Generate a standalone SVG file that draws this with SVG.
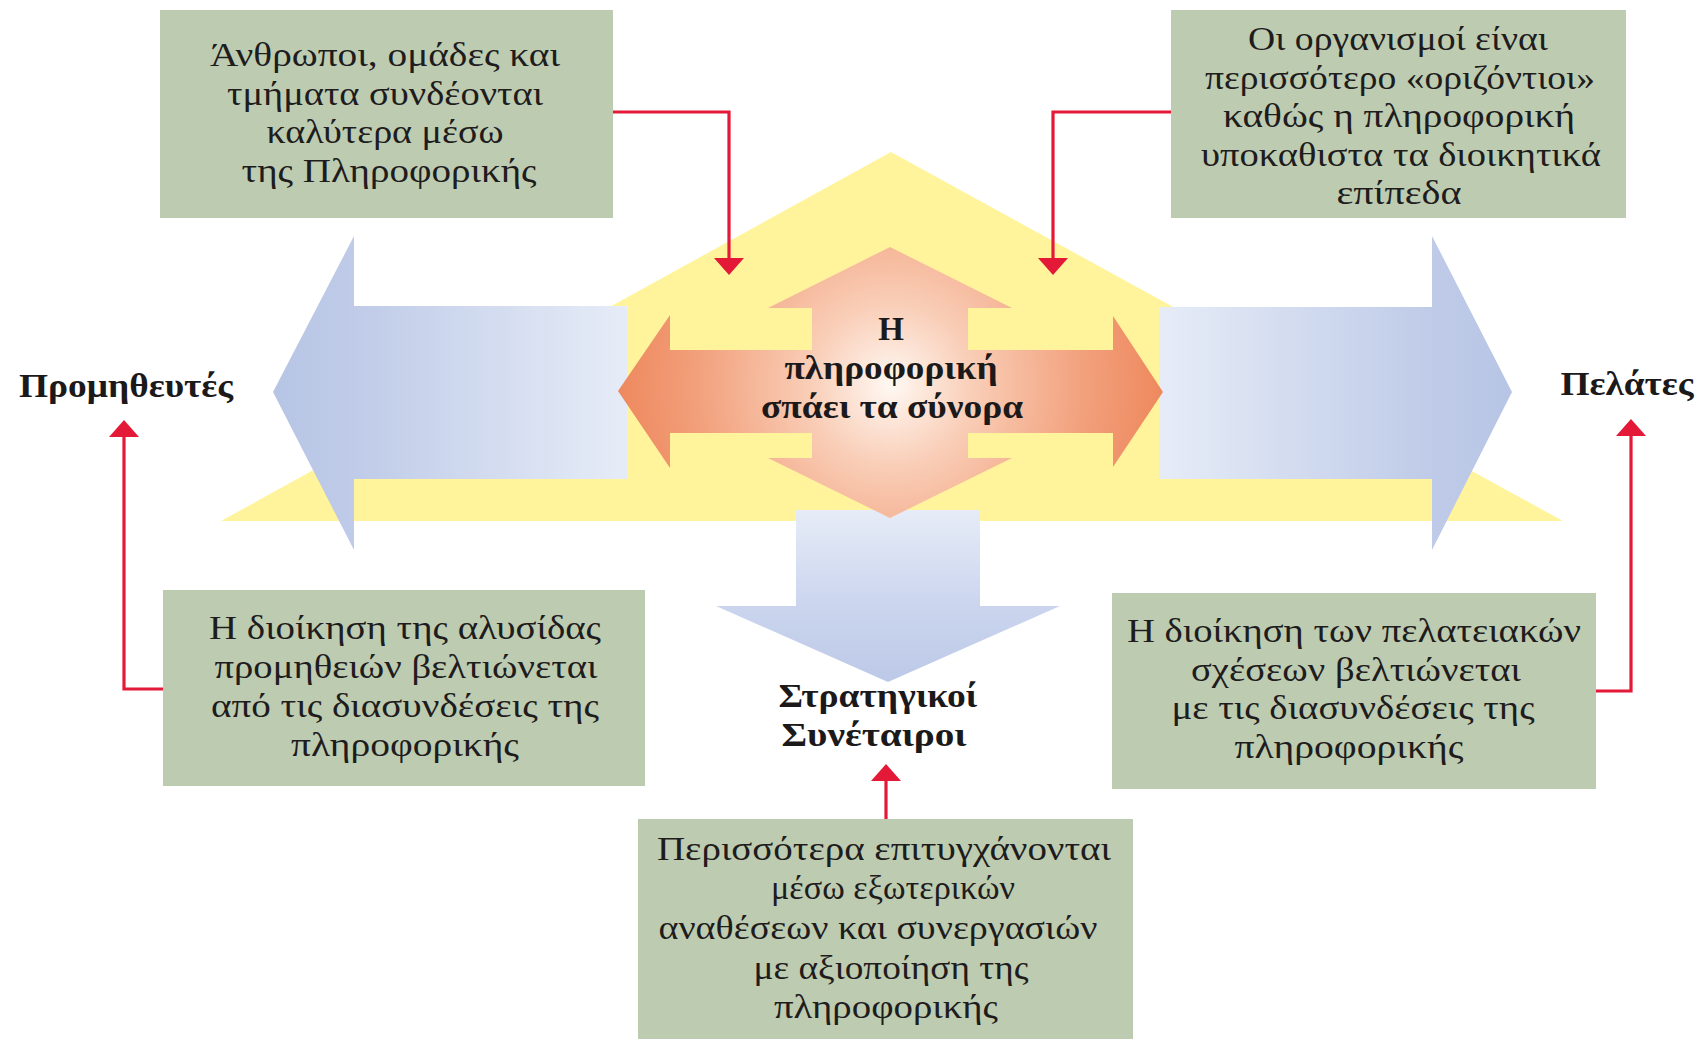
<svg xmlns="http://www.w3.org/2000/svg" width="1708" height="1039" viewBox="0 0 1708 1039">
  <defs>
    <style>
      .box { fill: #BDCCB1; }
      .bt { font-family: "Liberation Serif", "DejaVu Serif", serif; font-size: 34px; fill: #1F1C1D; text-anchor: middle; }
      .lbl { font-family: "Liberation Serif", "DejaVu Serif", serif; font-size: 33px; font-weight: bold; fill: #1C191A; text-anchor: middle; }
      .conn { fill: none; stroke: #E31937; stroke-width: 3.2; }
    </style>
    <marker id="ah" viewBox="0 0 17 30" refX="9" refY="15" markerWidth="17" markerHeight="30" markerUnits="userSpaceOnUse" orient="auto">
      <path d="M0,0 L17,15 L0,30 z" fill="#E31937"/>
    </marker>
    <linearGradient id="blueL" x1="0" y1="0" x2="1" y2="0">
      <stop offset="0" stop-color="#B7C5E5"/>
      <stop offset="0.23" stop-color="#BFCBE8"/>
      <stop offset="1" stop-color="#E6ECF7"/>
    </linearGradient>
    <linearGradient id="blueR" x1="1" y1="0" x2="0" y2="0">
      <stop offset="0" stop-color="#B7C5E5"/>
      <stop offset="0.23" stop-color="#BFCBE8"/>
      <stop offset="1" stop-color="#E6ECF7"/>
    </linearGradient>
    <linearGradient id="blueD" x1="0" y1="0" x2="0" y2="1">
      <stop offset="0" stop-color="#E6ECF7"/>
      <stop offset="0.55" stop-color="#CBD5EE"/>
      <stop offset="1" stop-color="#BCC9E7"/>
    </linearGradient>
    <radialGradient id="orange" gradientUnits="userSpaceOnUse" cx="891" cy="385" r="278">
      <stop offset="0" stop-color="#FFF8F3"/>
      <stop offset="0.3" stop-color="#F9CDB6"/>
      <stop offset="0.7" stop-color="#F2A07C"/>
      <stop offset="1" stop-color="#EE875C"/>
    </radialGradient>
  </defs>

  <rect width="1708" height="1039" fill="#FFFFFF"/>

  <g id="background-shapes">
    <polygon id="yellow-roof" points="221,521 891,152 1563,521" fill="#FFF49C"/>
    <polygon id="arrow-left" points="273,392 354,236 354,306 627,306 627,479 354,479 354,550" fill="url(#blueL)"/>
    <polygon id="arrow-right" points="1512,392 1432,236 1432,307 1159,307 1159,479 1432,479 1432,550" fill="url(#blueR)"/>
    <polygon id="arrow-down" points="796,510 980,510 980,606 1060,606 888,682 716,606 796,606" fill="url(#blueD)"/>
  </g>

  <g id="center-node">
    <polygon points="890,247 1012,308 968,308 968,350 1113,350 1113,316 1163,392 1113,467 1113,433 968,433 968,458 1012,458 890,518 768,458 812,458 812,433 670,433 670,468 618,391 670,315 670,350 812,350 812,308 768,308" fill="url(#orange)"/>
    <text class="lbl" x="891" y="340">Η</text>
    <text class="lbl" x="891" y="379" textLength="213" lengthAdjust="spacingAndGlyphs">πληροφορική</text>
    <text class="lbl" x="892" y="418" textLength="262" lengthAdjust="spacingAndGlyphs">σπάει τα σύνορα</text>
  </g>

  <g id="label-suppliers">
    <text class="lbl" x="126" y="397" textLength="214" lengthAdjust="spacingAndGlyphs">Προμηθευτές</text>
  </g>
  <g id="label-customers">
    <text class="lbl" x="1627" y="395" textLength="133" lengthAdjust="spacingAndGlyphs">Πελάτες</text>
  </g>
  <g id="label-partners">
    <text class="lbl" x="878" y="707" textLength="199" lengthAdjust="spacingAndGlyphs">Στρατηγικοί</text>
    <text class="lbl" x="874" y="746" textLength="185" lengthAdjust="spacingAndGlyphs">Συνέταιροι</text>
  </g>

  <g id="box-people">
    <rect class="box" x="160" y="10" width="453" height="208"/>
    <text class="bt" x="385" y="66" textLength="350" lengthAdjust="spacingAndGlyphs">Άνθρωποι, ομάδες και</text>
    <text class="bt" x="385" y="105" textLength="316" lengthAdjust="spacingAndGlyphs">τμήματα συνδέονται</text>
    <text class="bt" x="385" y="143" textLength="237" lengthAdjust="spacingAndGlyphs">καλύτερα μέσω</text>
    <text class="bt" x="389" y="182" textLength="295" lengthAdjust="spacingAndGlyphs">της Πληροφορικής</text>
  </g>

  <g id="box-organisations">
    <rect class="box" x="1171" y="10" width="455" height="208"/>
    <text class="bt" x="1398" y="50" textLength="300" lengthAdjust="spacingAndGlyphs">Οι οργανισμοί είναι</text>
    <text class="bt" x="1400" y="89" textLength="390" lengthAdjust="spacingAndGlyphs">περισσότερο «οριζόντιοι»</text>
    <text class="bt" x="1399" y="127" textLength="352" lengthAdjust="spacingAndGlyphs">καθώς η πληροφορική</text>
    <text class="bt" x="1401" y="166" textLength="400" lengthAdjust="spacingAndGlyphs">υποκαθιστα τα διοικητικά</text>
    <text class="bt" x="1399" y="204" textLength="125" lengthAdjust="spacingAndGlyphs">επίπεδα</text>
  </g>

  <g id="box-supply-chain">
    <rect class="box" x="163" y="590" width="482" height="196"/>
    <text class="bt" x="405" y="639" textLength="392" lengthAdjust="spacingAndGlyphs">Η διοίκηση της αλυσίδας</text>
    <text class="bt" x="406" y="678" textLength="383" lengthAdjust="spacingAndGlyphs">προμηθειών βελτιώνεται</text>
    <text class="bt" x="405" y="717" textLength="388" lengthAdjust="spacingAndGlyphs">από τις διασυνδέσεις της</text>
    <text class="bt" x="405" y="756" textLength="228" lengthAdjust="spacingAndGlyphs">πληροφορικής</text>
  </g>

  <g id="box-customer-relations">
    <rect class="box" x="1112" y="593" width="484" height="196"/>
    <text class="bt" x="1354" y="642" textLength="454" lengthAdjust="spacingAndGlyphs">Η διοίκηση των πελατειακών</text>
    <text class="bt" x="1356" y="681" textLength="330" lengthAdjust="spacingAndGlyphs">σχέσεων βελτιώνεται</text>
    <text class="bt" x="1353" y="719" textLength="363" lengthAdjust="spacingAndGlyphs">με τις διασυνδέσεις της</text>
    <text class="bt" x="1349" y="758" textLength="229" lengthAdjust="spacingAndGlyphs">πληροφορικής</text>
  </g>

  <g id="box-outsourcing">
    <rect class="box" x="638" y="819" width="495" height="220"/>
    <text class="bt" x="884" y="860" textLength="454" lengthAdjust="spacingAndGlyphs">Περισσότερα επιτυγχάνονται</text>
    <text class="bt" x="893" y="899" textLength="244" lengthAdjust="spacingAndGlyphs">μέσω εξωτερικών</text>
    <text class="bt" x="878" y="939" textLength="439" lengthAdjust="spacingAndGlyphs">αναθέσεων και συνεργασιών</text>
    <text class="bt" x="891" y="979" textLength="275" lengthAdjust="spacingAndGlyphs">με αξιοποίηση της</text>
    <text class="bt" x="886" y="1018" textLength="224" lengthAdjust="spacingAndGlyphs">πληροφορικής</text>
  </g>

  <g id="connectors">
    <path class="conn" d="M613,112 H729 V267" marker-end="url(#ah)"/>
    <path class="conn" d="M1171,112 H1053 V267" marker-end="url(#ah)"/>
    <path class="conn" d="M163,689 H124 V428" marker-end="url(#ah)"/>
    <path class="conn" d="M1596,691 H1631 V427" marker-end="url(#ah)"/>
    <path class="conn" d="M886,819 V772" marker-end="url(#ah)"/>
  </g>
</svg>
